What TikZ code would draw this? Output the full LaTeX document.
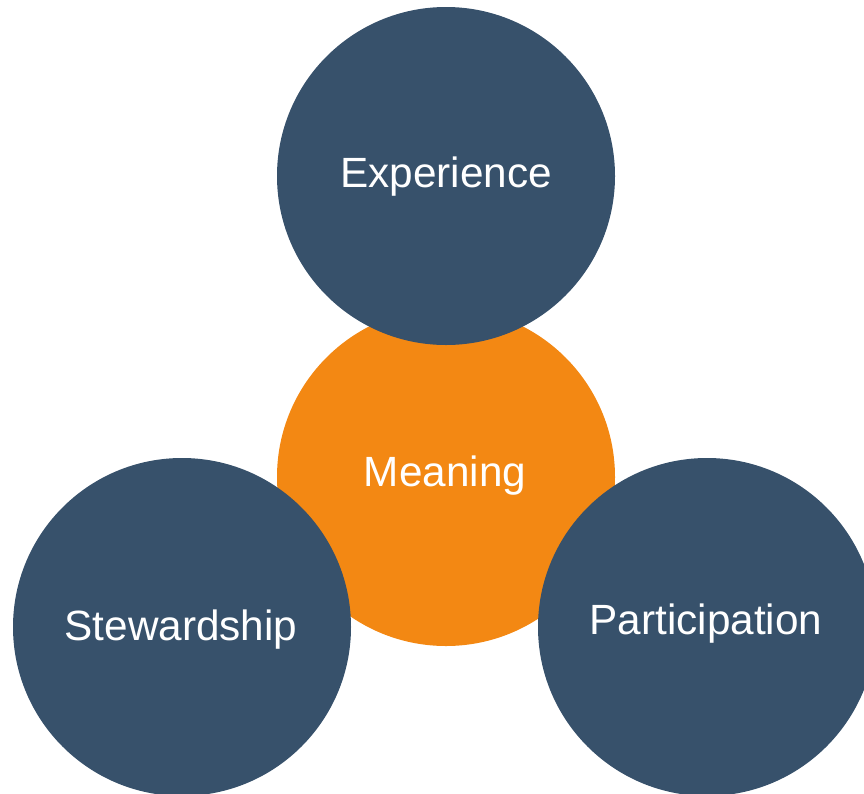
\documentclass[tikz,border=0pt]{standalone}
\usepackage{fontspec}
\setmainfont{Liberation Sans}
\definecolor{navy}{HTML}{37516B}
\definecolor{amber}{HTML}{F38813}
\begin{document}
\begin{tikzpicture}[x=1pt,y=-1pt,
  disc/.style={circle,minimum size=338pt,inner sep=0pt},
  bluedisc/.style={disc,fill=navy},
  orangedisc/.style={disc,fill=amber},
  label/.style={text=white,font=\fontsize{42.3}{48}\selectfont}]
\useasboundingbox (0,0) rectangle (864,793);
\clip (0,0) rectangle (864,793);
\node[orangedisc] (meaning) at (446,477) {};
\node[bluedisc] (experience) at (446,176) {};
\node[bluedisc] (stewardship) at (182,627) {};
\node[bluedisc] (participation) at (707,627) {};
\node[label] (tm) at (445,476) {Meaning};
\node[label] (te) at (446,177) {Experience};
\node[label] (ts) at (181,630) {Stewardship};
\node[label] (tp) at (706,624) {Participation};
\end{tikzpicture}
\end{document}
